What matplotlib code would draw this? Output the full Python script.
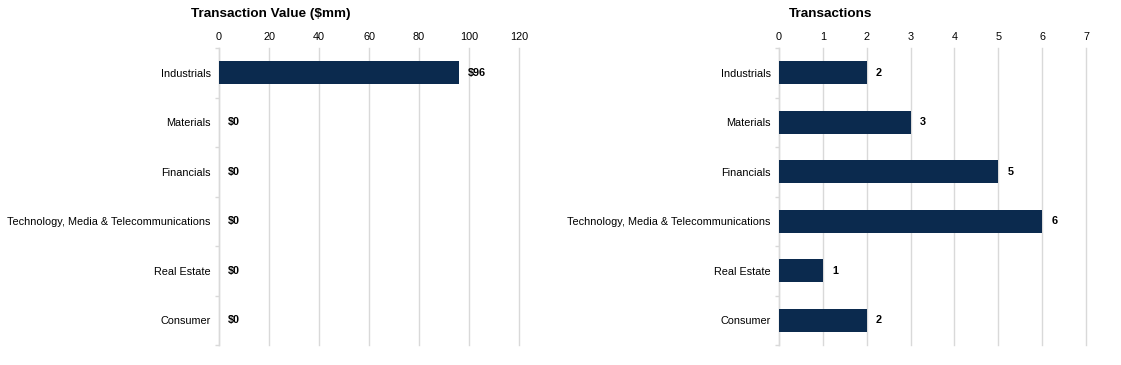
import matplotlib
matplotlib.use("Agg")
import matplotlib.pyplot as plt

plt.rcParams['font.family'] = ['Liberation Sans', 'DejaVu Sans']

categories = ["Industrials", "Materials", "Financials",
              "Technology, Media & Telecommunications", "Real Estate", "Consumer"]
value_mm = [96, 0, 0, 0, 0, 0]
transactions = [2, 3, 5, 6, 1, 2]
value_ticks = [0, 20, 40, 60, 80, 100, 120]
count_ticks = [0, 1, 2, 3, 4, 5, 6, 7]

bar_color = "#0b2a4e"
grid_color = "#d9d9d9"

fig = plt.figure(figsize=(11.21, 3.65), dpi=100)
ax1 = fig.add_axes([219/1121, 1-345/365, 300/1121, 297/365])
ax2 = fig.add_axes([779/1121, 1-345/365, 307/1121, 297/365])

def style(ax, vals, ticks, fmt):
    y = list(range(len(categories)))
    ax.barh(y, vals, height=0.47, color=bar_color, zorder=3)
    ax.set_ylim(len(categories)-0.5, -0.5)
    ax.set_xlim(ticks[0], ticks[-1])
    ax.set_xticks(ticks)
    ax.xaxis.tick_top()
    ax.tick_params(axis='x', length=0, labelsize=7.8, pad=4)
    ax.set_yticks(y)
    ax.set_yticklabels(categories, fontsize=7.8)
    ax.tick_params(axis='y', length=0, pad=6)
    ax.set_yticks([i-0.5 for i in range(len(categories)+1)], minor=True)
    ax.tick_params(axis='y', which='minor', length=3, color=grid_color, width=1)
    ax.grid(axis='x', color=grid_color, linewidth=1, zorder=0)
    for line in ax.get_xgridlines():
        line.set_clip_on(False)
    for s in ['top', 'right', 'bottom']:
        ax.spines[s].set_visible(False)
    ax.spines['left'].set_color(grid_color)
    ax.spines['left'].set_linewidth(1)
    for i, v in enumerate(vals):
        ax.annotate(fmt(v), xy=(v, i), xytext=(6.5, 0), textcoords='offset points',
                    va='center', ha='left', fontsize=7.8, fontweight='bold', zorder=4)

style(ax1, value_mm, value_ticks, lambda v: f"${v:g}")
style(ax2, transactions, count_ticks, lambda v: f"{v:g}")

fig.text(271/1121, 1-14/365, "Transaction Value ($mm)", ha='center', va='center',
         fontsize=9.7, fontweight='bold')
fig.text(831/1121, 1-14/365, "Transactions", ha='center', va='center',
         fontsize=9.7, fontweight='bold')

fig.savefig("out.png", dpi=100)
